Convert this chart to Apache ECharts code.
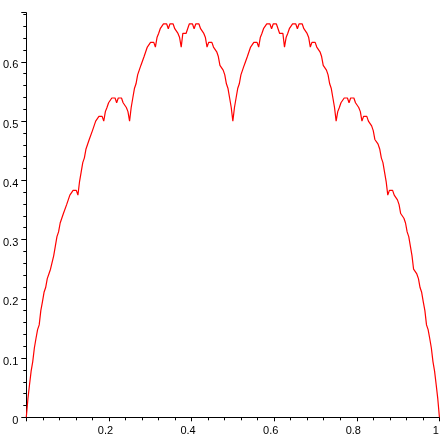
<!DOCTYPE html>
<html>
<head>
<meta charset="utf-8">
<script src="https://cdn.jsdelivr.net/npm/echarts@6/dist/echarts.min.js"></script>
<style>
html,body{margin:0;padding:0;background:#fff;}
#c{width:447px;height:447px;}
</style>
</head>
<body>
<div id="c"></div>
<script>
// Curve values at x = k/256, k = 0..128
var yFirstHalf = [
0,.031,.055,.078,.094,.117,.133,.148,.156,.180,.195,.211,.219,.234,.242,.25,.25,
.273,.289,.305,.313,.328,.336,.344,.344,.359,.367,.375,.375,.383,.383,.383,.375,
.398,.414,.430,.438,.453,.461,.469,.469,.484,.492,.5,.5,.508,.508,.508,.5,
.516,.523,.531,.531,.539,.539,.539,.531,.539,.539,.539,.531,.531,.523,.516,.5,
.523,.539,.555,.563,.578,.586,.594,.594,.609,.617,.625,.625,.633,.633,.633,.625,
.641,.648,.656,.656,.664,.664,.664,.656,.664,.664,.664,.656,.656,.648,.641,.625,
.648,.648,.648,.656,.664,.664,.664,.656,.664,.664,.664,.656,.656,.648,.641,.625,
.633,.633,.633,.625,.625,.617,.609,.594,.594,.586,.578,.563,.555,.539,.523,.5
];
// x = k/256, k = 129..256
var ySecondHalf = [
.523,.539,.555,.563,.578,.586,.594,.594,.609,.617,.625,.625,.633,.633,.633,
.625,.641,.648,.656,.656,.664,.664,.664,.656,.664,.664,.664,.656,.648,.648,.648,
.625,.641,.648,.656,.656,.664,.664,.664,.656,.664,.664,.664,.656,.656,.648,.641,
.625,.633,.633,.633,.625,.625,.617,.609,.594,.594,.586,.578,.563,.555,.539,.523,
.5,.516,.523,.531,.531,.539,.539,.539,.531,.539,.539,.539,.531,.531,.523,.516,
.5,.508,.508,.508,.5,.5,.492,.484,.469,.469,.461,.453,.438,.430,.414,.398,
.375,.383,.383,.383,.375,.375,.367,.359,.344,.344,.336,.328,.313,.305,.289,.273,
.25,.25,.242,.234,.219,.211,.195,.180,.156,.148,.133,.117,.094,.078,.055,.031,0
];
var xStep = 1/256;
var xTicks = [0.2, 0.4, 0.6, 0.8, 1];
var yTicks = [0, 0.1, 0.2, 0.3, 0.4, 0.5, 0.6];

var yValues = yFirstHalf.concat(ySecondHalf);
var points = yValues.map(function(v, i){ return [i * xStep, v]; });

var chart = echarts.init(document.getElementById('c'), null, {renderer:'canvas'});
var font = 'Liberation Sans';
chart.setOption({
  animation: false,
  backgroundColor: '#ffffff',
  grid: {left: 25, right: 6.5, top: 12.7, bottom: 29.7, containLabel: false},
  xAxis: {
    type: 'value', min: 0, max: 1, interval: 0.2,
    axisLine: {show: true, onZero: true, lineStyle: {color: '#000', width: 1}},
    axisTick: {show: true, inside: false, length: 4, lineStyle: {color: '#000'}},
    minorTick: {show: true, splitNumber: 5, length: 3, lineStyle: {color: '#000'}},
    splitLine: {show: false},
    axisLabel: {
      show: true, color: '#000', fontSize: 11, fontFamily: font, margin: 8,
      showMinLabel: false,
      rich: {s: {width: 7, fontSize: 11}},
      formatter: function(v){
        var r = Math.round(v*10)/10;
        return xTicks.indexOf(r) >= 0 ? String(r) + '{s| }' : '';
      }
    }
  },
  yAxis: {
    type: 'value', min: 0, max: 0.683, interval: 0.1,
    axisLine: {show: true, onZero: true, lineStyle: {color: '#000', width: 1}},
    axisTick: {show: true, inside: false, length: 5, lineStyle: {color: '#000'}},
    minorTick: {show: true, splitNumber: 5, length: 3, lineStyle: {color: '#000'}},
    splitLine: {show: false},
    axisLabel: {
      show: true, color: '#000', fontSize: 11, fontFamily: font, margin: 8,
      verticalAlign: 'top', lineHeight: 7,
      showMaxLabel: false,
      formatter: function(v){ var r = Math.round(v*10)/10; return yTicks.indexOf(r) >= 0 && Math.abs(v - r) < 1e-6 ? String(r) : ''; }
    }
  },
  series: [{
    type: 'line',
    data: points,
    showSymbol: false,
    symbol: 'none',
    lineStyle: {color: '#ff0000', width: 1.2},
    itemStyle: {color: '#ff0000'}
  }]
});
</script>
</body>
</html>
